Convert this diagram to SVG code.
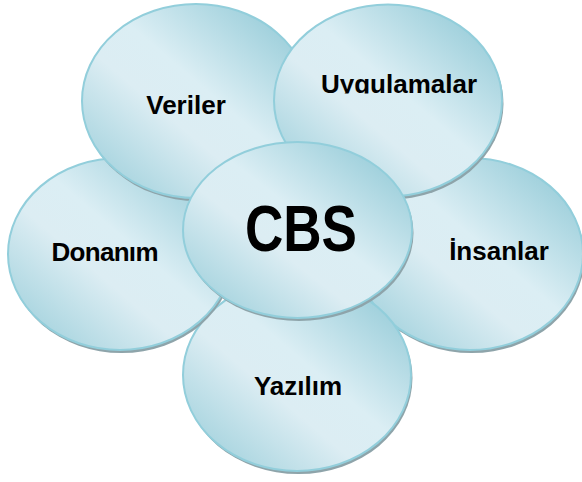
<svg xmlns="http://www.w3.org/2000/svg" width="582" height="482" viewBox="0 0 582 482">
<defs>
<linearGradient id="g" x1="1" y1="0" x2="0" y2="1">
<stop offset="0.12" stop-color="#9dcfdb"/>
<stop offset="0.45" stop-color="#dbeef4"/>
<stop offset="0.6" stop-color="#dcedf3"/>
<stop offset="0.9" stop-color="#a5d3de"/>
</linearGradient>
<clipPath id="clipU"><rect x="300" y="40" width="200" height="53.5"/></clipPath>
</defs>
<style>
.sh{fill:#8ea4aa}
.el{fill:url(#g);stroke:#92cedb;stroke-width:2}
.t{font-family:"Liberation Sans",Arial,sans-serif;font-weight:bold;font-size:26px;fill:#000;text-anchor:middle}
.big{font-size:64px}
</style>
<rect width="582" height="482" fill="#fff"/>
<g id="insanlar">
<ellipse class="sh" cx="471.5" cy="257" rx="113" ry="96"/>
<ellipse class="el" cx="470" cy="254" rx="113" ry="96"/>
<text class="t" x="499" y="260">İnsanlar</text>
</g>
<g id="yazilim">
<ellipse class="sh" cx="298.5" cy="378" rx="114" ry="96"/>
<ellipse class="el" cx="297" cy="375" rx="114" ry="96"/>
<text class="t" x="298" y="395">Yazılım</text>
</g>
<g id="donanim">
<ellipse class="sh" cx="121.5" cy="257" rx="112" ry="96"/>
<ellipse class="el" cx="120" cy="254" rx="112" ry="96"/>
<text class="t" x="105" y="261" textLength="107">Donanım</text>
</g>
<g id="veriler">
<ellipse class="sh" cx="197.5" cy="104" rx="114" ry="97"/>
<ellipse class="el" cx="196" cy="101" rx="114" ry="97"/>
<text class="t" x="186" y="114">Veriler</text>
</g>
<g id="uygulamalar">
<ellipse class="sh" cx="389.5" cy="103.5" rx="114" ry="96"/>
<ellipse class="el" cx="388" cy="100.5" rx="114" ry="96"/>
<text class="t" x="399" y="92.5" clip-path="url(#clipU)">Uygulamalar</text>
</g>
<g id="cbs">
<ellipse class="sh" cx="299" cy="233" rx="114.5" ry="88"/>
<ellipse class="el" cx="297.5" cy="230" rx="114.5" ry="88"/>
<text class="t big" x="301" y="251" textLength="112" lengthAdjust="spacingAndGlyphs">CBS</text>
</g>
</svg>
